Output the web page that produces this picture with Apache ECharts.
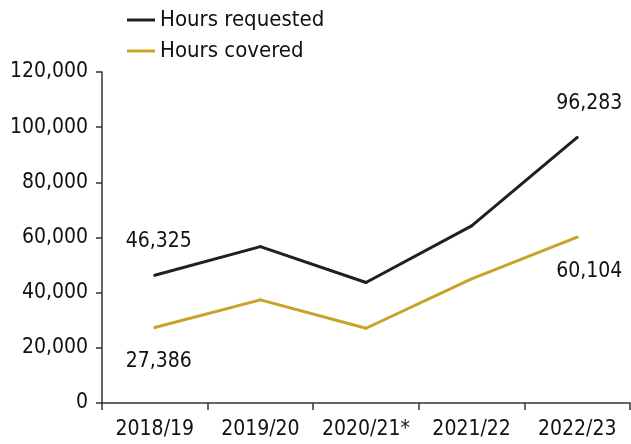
<!DOCTYPE html>
<html>
<head>
<meta charset="utf-8">
<script src="https://cdn.jsdelivr.net/npm/echarts@6/dist/echarts.min.js"></script>
<style>
  html, body { margin: 0; padding: 0; background: #fff; }
  #main { width: 631px; height: 444px; }
</style>
</head>
<body>
<div id="main"></div>
<script>
const years = ['2018/19', '2019/20', '2020/21*', '2021/22', '2022/23']
const hoursRequested = [46325, 56700, 43700, 64200, 96283]
const hoursCovered = [27386, 37400, 27100, 45000, 60104]
const yTicks = [0, 20000, 40000, 60000, 80000, 100000, 120000]

const font = '"DejaVu Sans Condensed", "Liberation Sans Narrow", sans-serif'
const black = '#231f20'
const gold = '#c9a227'

// only the first and last points carry a label
const withEndLabels = (values, pos) => values.map((v, i) => {
  if (i === 0) return { value: v, label: { show: true, position: pos, offset: [4, 0] } }
  if (i === values.length - 1) return { value: v, label: { show: true, position: pos, offset: [12, 0] } }
  return v
})

const fmt = v => v.toLocaleString('en-US')

var myChart = echarts.init(document.getElementById('main'))
myChart.setOption({
  animation: false,
  textStyle: { fontFamily: font },
  grid: { left: 102, right: 1, top: 72, bottom: 41, containLabel: false },
  legend: {
    orient: 'vertical',
    left: 122,
    top: 4,
    itemGap: 9,
    itemWidth: 28,
    itemHeight: 3,
    icon: 'rect',
    textStyle: { fontFamily: font, fontSize: 22, color: '#111', lineHeight: 20 },
    data: ['Hours requested', 'Hours covered']
  },
  xAxis: {
    type: 'category',
    data: years,
    boundaryGap: true,
    axisLine: { lineStyle: { color: '#333', width: 1.5 } },
    axisTick: { show: true, length: 7, lineStyle: { color: '#333', width: 1.5 } },
    axisLabel: { interval: 0, fontFamily: font, fontSize: 21, color: '#111', margin: 16 },
    splitLine: { show: false }
  },
  yAxis: {
    type: 'value',
    min: yTicks[0],
    max: yTicks[yTicks.length - 1],
    interval: 20000,
    axisLine: { show: true, lineStyle: { color: '#333', width: 1.5 } },
    axisTick: { show: true, length: 6, lineStyle: { color: '#333', width: 1.5 } },
    axisLabel: { fontFamily: font, fontSize: 21, color: '#111', margin: 14, formatter: v => fmt(v) },
    splitLine: { show: false }
  },
  series: [
    {
      name: 'Hours requested',
      type: 'line',
      data: withEndLabels(hoursRequested, 'top'),
      symbol: 'circle',
      symbolSize: 3,
      showSymbol: true,
      color: black,
      itemStyle: { color: black },
      lineStyle: { color: black, width: 3 },
      label: { show: false, fontFamily: font, fontSize: 21, color: '#111', distance: 22, formatter: p => fmt(p.value) }
    },
    {
      name: 'Hours covered',
      type: 'line',
      data: withEndLabels(hoursCovered, 'bottom'),
      symbol: 'circle',
      symbolSize: 3,
      showSymbol: true,
      color: gold,
      itemStyle: { color: gold },
      lineStyle: { color: gold, width: 3 },
      label: { show: false, fontFamily: font, fontSize: 21, color: '#111', distance: 22, formatter: p => fmt(p.value) }
    }
  ]
})
</script>
</body>
</html>
